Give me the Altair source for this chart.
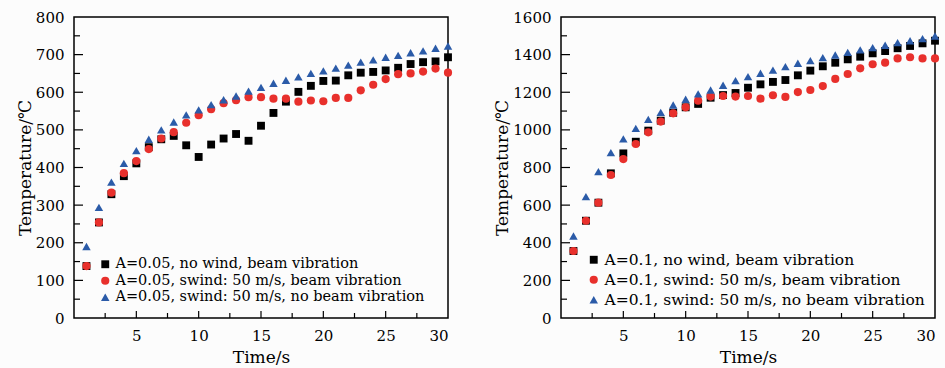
import altair as alt
import pandas as pd

t = list(range(1, 31))

left_names = ["A=0.05, no wind,  beam vibration",
              "A=0.05, swind: 50 m/s, beam vibration",
              "A=0.05, swind: 50 m/s, no beam vibration"]
right_names = ["A=0.1, no wind,  beam vibration",
               "A=0.1, swind: 50 m/s, beam vibration",
               "A=0.1, swind: 50 m/s, no beam vibration"]

left_square = [138, 254, 329, 377, 411, 454, 475, 484, 459, 428,
               461, 477, 489, 471, 511, 545, 575, 601, 617, 630,
               631, 645, 652, 654, 658, 665, 675, 680, 682, 693]
left_circle = [138, 254, 333, 385, 417, 449, 477, 494, 519, 539,
               555, 571, 579, 587, 587, 583, 583, 575, 578, 576,
               585, 585, 605, 620, 635, 648, 650, 655, 663, 652]
left_triangle = [190, 294, 361, 411, 445, 475, 500, 521, 540, 553,
                 567, 580, 590, 603, 613, 624, 632, 641, 650, 657,
                 664, 672, 680, 686, 693, 698, 705, 710, 717, 723]

right_square = [356, 517, 613, 769, 875, 937, 996, 1049, 1091, 1120,
                1138, 1171, 1185, 1196, 1224, 1242, 1255, 1265, 1290, 1315,
                1338, 1357, 1375, 1389, 1407, 1419, 1434, 1446, 1460, 1474]
right_circle = [356, 517, 613, 760, 845, 925, 987, 1044, 1088, 1120,
                1155, 1177, 1180, 1177, 1180, 1166, 1184, 1175, 1201, 1212,
                1233, 1271, 1297, 1327, 1349, 1357, 1380, 1386, 1380, 1380]
right_triangle = [436, 645, 778, 879, 952, 1008, 1056, 1093, 1132, 1163,
                  1191, 1212, 1237, 1262, 1283, 1301, 1318, 1336, 1354, 1368,
                  1384, 1398, 1412, 1425, 1437, 1450, 1464, 1474, 1485, 1499]

x_labels = [5, 10, 15, 20, 25, 30]
x_major = [5, 10, 15, 20, 25]
x_minor = [2.5, 7.5, 12.5, 17.5, 22.5, 27.5]
left_y_labels = [0, 100, 200, 300, 400, 500, 600, 700, 800]
left_y_major = [100, 200, 300, 400, 500, 600, 700]
left_y_minor = [50, 150, 250, 350, 450, 550, 650, 750]
right_y_labels = [0, 200, 400, 600, 800, 1000, 1200, 1400, 1600]
right_y_major = [200, 400, 600, 800, 1000, 1200, 1400]
right_y_minor = [100, 300, 500, 700, 900, 1100, 1300, 1500]

colors = ["#000000", "#e8302c", "#2b5ba8"]
shapes = ["square", "circle", "triangle-up"]
sizes = [62, 72, 95]

FONT = "DejaVu Serif"
W, H = 374, 301


def panel(names, series, ymax, ylabels, ymaj, ymin, lx, ly, lfont, lrowpad):
    rows = []
    for name, vals in zip(names, series):
        for ti, v in zip(t, vals):
            rows.append({"t": ti, "temp": v, "series": name})
    df = pd.DataFrame(rows)
    xs = alt.Scale(domain=[0, 30], nice=False, zero=False)
    ys = alt.Scale(domain=[0, ymax], nice=False)
    xaxis = alt.Axis(values=x_labels, title="Time/s", ticks=False, grid=False,
                     domain=False, labelFont=FONT, labelFontSize=15,
                     labelColor="black", labelPadding=10,
                     titleFont=FONT, titleFontSize=17, titleFontWeight="normal",
                     titleColor="black", titlePadding=6)
    yaxis = alt.Axis(values=ylabels, title="Temperature/℃", ticks=False, grid=False,
                     domain=False, labelFont=FONT, labelFontSize=15, format="d",
                     labelColor="black", labelPadding=10,
                     titleFont=FONT, titleFontSize=17, titleFontWeight="normal",
                     titleColor="black", titlePadding=1)

    pts = alt.Chart(df).mark_point(filled=True, opacity=1, strokeWidth=0).encode(
        x=alt.X("t:Q", scale=xs, axis=xaxis),
        y=alt.Y("temp:Q", scale=ys, axis=yaxis),
        color=alt.Color("series:N", scale=alt.Scale(domain=names, range=colors),
                        legend=alt.Legend(title=None, orient="none", legendX=lx, legendY=ly,
                                          labelFont=FONT, labelFontSize=lfont,
                                          labelColor="black", symbolSize=55,
                                          symbolStrokeWidth=0, labelOffset=3,
                                          rowPadding=lrowpad, padding=0,
                                          labelLimit=500)),
        shape=alt.Shape("series:N", scale=alt.Scale(domain=names, range=shapes)),
        size=alt.Size("series:N", scale=alt.Scale(domain=names, range=sizes), legend=None),
    )

    def xrule(vals, length):
        return alt.Chart(pd.DataFrame({"t": vals})).mark_rule(color="black", strokeWidth=1.2).encode(
            x=alt.X("t:Q", scale=xs, axis=xaxis), y=alt.value(H), y2=alt.value(H - length))

    def yrule(vals, length):
        return alt.Chart(pd.DataFrame({"temp": vals})).mark_rule(color="black", strokeWidth=1.2).encode(
            y=alt.Y("temp:Q", scale=ys, axis=yaxis), x=alt.value(0), x2=alt.value(length))

    return alt.layer(pts, xrule(x_major, 7), xrule(x_minor, 5), yrule(ymaj, 9), yrule(ymin, 6)).properties(
        width=W, height=H)


left = panel(left_names, [left_square, left_circle, left_triangle], 800,
             left_y_labels, left_y_major, left_y_minor, 24, 240, 14.5, 1.5)
right = panel(right_names, [right_square, right_circle, right_triangle], 1600,
              right_y_labels, right_y_major, right_y_minor, 25, 235, 15.5, 3)

chart = alt.hconcat(left, right, spacing=113, bounds="flush").resolve_scale(
    color="independent", shape="independent", size="independent"
).resolve_legend(
    color="independent", shape="independent", size="independent"
).properties(
    background="#fcfcfc",
    padding={"left": 15, "top": 9, "right": 5, "bottom": 5},
).configure_view(stroke="black", strokeWidth=1.5, fill="#fcfcfc")

chart.save("out.html", embed_options={"renderer": "svg", "actions": False})
